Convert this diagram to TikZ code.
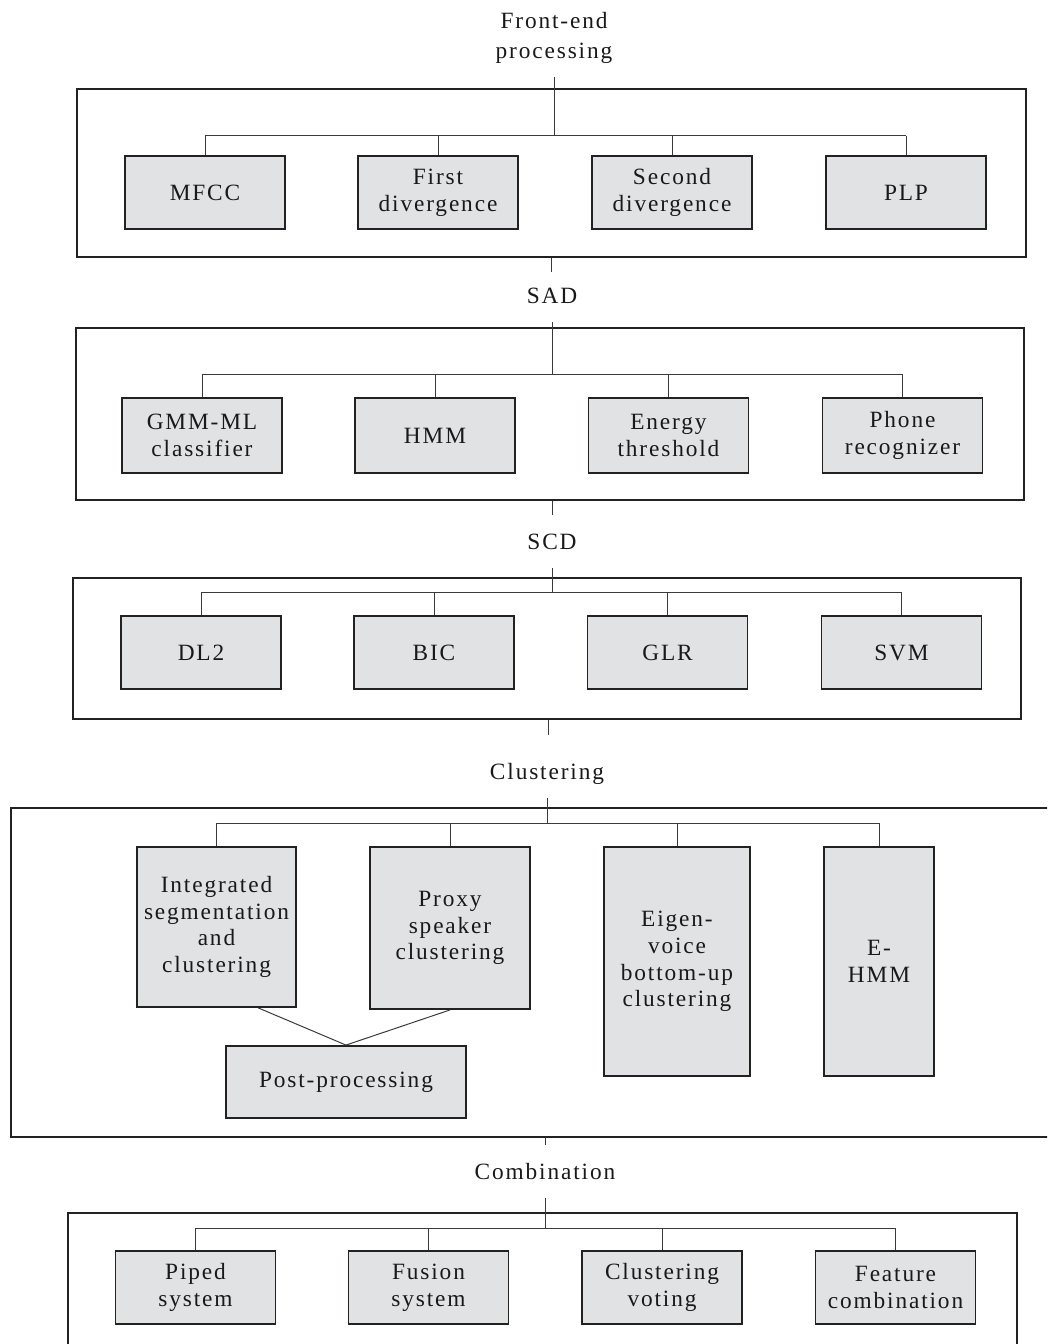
\documentclass[tikz,border=0pt]{standalone}
\usepackage{fontspec}
\setmainfont{Liberation Serif}[LetterSpace=8]
\usetikzlibrary{calc}
\definecolor{boxfill}{HTML}{E1E2E4}
\definecolor{ink}{HTML}{222222}
\definecolor{wirecol}{HTML}{3A3A3A}
\begin{document}
\begin{tikzpicture}[x=0.75pt,y=-0.75pt,
  panel/.style={draw=ink,line width=1.7pt,inner sep=0pt},
  blockbox/.style={draw=ink,line width=1.4pt,fill=boxfill,inner sep=0pt,align=center,
    text=black!90,font=\fontsize{17.5}{20}\selectfont},
  heading/.style={anchor=south,align=center,inner xsep=0pt,inner ysep=9pt,text depth=5pt,
    text=black!90,font=\fontsize{17.5}{22.5}\selectfont},
  wire/.style={draw=wirecol,line width=0.75pt},
  sz/.style 2 args={minimum width=#1*0.75pt,minimum height=#2*0.75pt},
]
\useasboundingbox (0,0) rectangle (1047,1344);
\clip (0,0) rectangle (1047,1344);

% ---------- stage frames ----------
\node[panel,sz={949}{168}]  (f1) at (551.5,173)  {};
\node[panel,sz={948}{172}]  (f2) at (550,414)    {};
\node[panel,sz={948}{141}]  (f3) at (547,648.5)  {};
\node[panel,sz={1054}{329}] (f4) at (538,972.5)  {};
\node[panel,sz={949}{157}]  (f5) at (542.5,1291.5) {};

% ---------- stage headings ----------
\node[heading] (t1) at (554,77)   {Front-end\\processing};
\node[heading] (t2) at (552,322)  {SAD};
\node[heading] (t3) at (552,568)  {SCD};
\node[heading] (t4) at (547,798)  {Clustering};
\node[heading] (t5) at (545,1198) {Combination};

% ---------- bus junctions and stubs below frames ----------
\coordinate (h1) at (554,136);
\coordinate (h2) at (552,374);
\coordinate (h3) at (552,592);
\coordinate (h4) at (547,823);
\coordinate (h5) at (545,1228);
\coordinate (s1) at (551,272);
\coordinate (s2) at (552,515);
\coordinate (s3) at (548,735);
\coordinate (s4) at (545,1145);

% ---------- front-end processing ----------
\node[blockbox,sz={160}{73}] (mfcc) at (205,192.5) {MFCC};
\node[blockbox,sz={160}{73}] (fdiv) at (438,192.5) {First\\divergence};
\node[blockbox,sz={160}{73}] (sdiv) at (672,192.5) {Second\\divergence};
\node[blockbox,sz={160}{73}] (plp)  at (906,192.5) {PLP};

% ---------- SAD ----------
\node[blockbox,sz={160}{75}] (gmm)    at (202,435.5)   {GMM-ML\\classifier};
\node[blockbox,sz={160}{75}] (hmm)    at (435,435.5)   {HMM};
\node[blockbox,sz={160}{75}] (energy) at (668.5,435.5) {Energy\\threshold};
\node[blockbox,sz={160}{75}] (phone)  at (902.5,435.5) {Phone\\recognizer};

% ---------- SCD ----------
\node[blockbox,sz={160}{73}] (dl2) at (201,652.5)   {DL2};
\node[blockbox,sz={160}{73}] (bic) at (434,652.5)   {BIC};
\node[blockbox,sz={160}{73}] (glr) at (667.5,652.5) {GLR};
\node[blockbox,sz={160}{73}] (svm) at (901.5,652.5) {SVM};

% ---------- clustering ----------
\node[blockbox,sz={159}{160}] (integ) at (216.5,927) {Integrated\\segmentation\\and\\clustering};
\node[blockbox,sz={160}{162}] (proxy) at (450,928)   {Proxy\\speaker\\clustering};
\node[blockbox,sz={146}{229}] (eigen) at (677,961.5) {Eigen-\\voice\\bottom-up\\clustering};
\node[blockbox,sz={110}{229}] (ehmm)  at (879,961.5) {E-\\HMM};
\node[blockbox,sz={240}{72}]  (post)  at (346,1082)  {Post-processing};

% ---------- combination ----------
\node[blockbox,sz={160}{73}] (piped)   at (195.5,1287.5) {Piped\\system};
\node[blockbox,sz={160}{73}] (fusion)  at (428.5,1287.5) {Fusion\\system};
\node[blockbox,sz={160}{73}] (voting)  at (662,1287.5)   {Clustering\\voting};
\node[blockbox,sz={160}{73}] (feature) at (895.5,1287.5) {Feature\\combination};

% ---------- connectors ----------
\foreach \t/\h in {t1/h1,t2/h2,t3/h3,t4/h4,t5/h5}
  \draw[wire] (\t.south) -- (\h);
\foreach \f/\s in {f1/s1,f2/s2,f3/s3,f4/s4}
  \draw[wire] (\s |- \f.south) -- (\s);

\draw[wire] (mfcc.north |- h1) -- (plp.north |- h1);
\draw[wire] (gmm.north |- h2) -- (phone.north |- h2);
\draw[wire] (dl2.north |- h3) -- (svm.north |- h3);
\draw[wire] (integ.north |- h4) -- (ehmm.north |- h4);
\draw[wire] (piped.north |- h5) -- (feature.north |- h5);

\foreach \n/\h in {mfcc/h1,fdiv/h1,sdiv/h1,plp/h1,
                   gmm/h2,hmm/h2,energy/h2,phone/h2,
                   dl2/h3,bic/h3,glr/h3,svm/h3,
                   integ/h4,proxy/h4,eigen/h4,ehmm/h4,
                   piped/h5,fusion/h5,voting/h5,feature/h5}
  \draw[wire] (\n.north |- \h) -- (\n.north);

\draw[wire] ($(integ.south)!0.52!(integ.south east)$) -- (post.north);
\draw[wire] (proxy.south) -- (post.north);
\end{tikzpicture}
\end{document}
